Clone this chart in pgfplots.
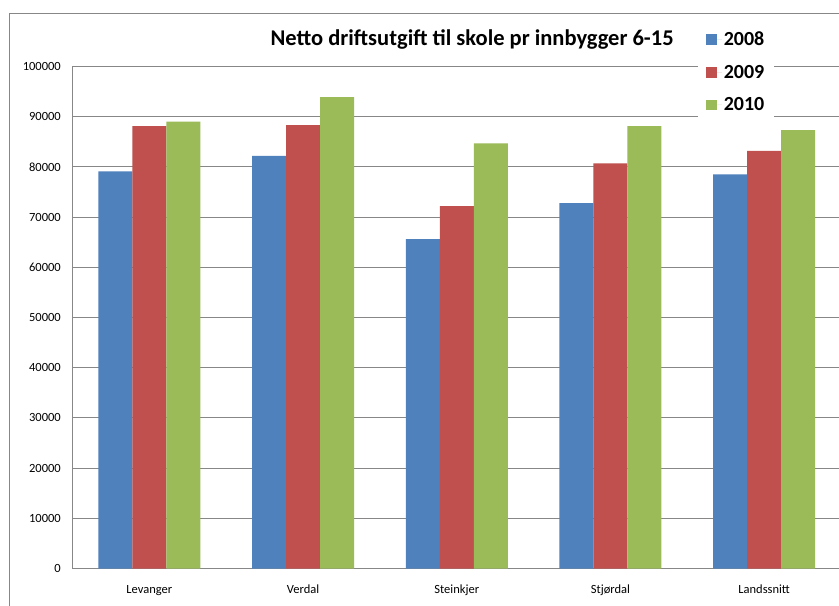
\documentclass[border=0pt]{standalone}
\usepackage{fontspec}
\setmainfont{Carlito}
\usepackage{pgfplots}
\pgfplotsset{compat=1.18}
\definecolor{cblue}{HTML}{4F81BD}
\definecolor{cred}{HTML}{C0504D}
\definecolor{cgreen}{HTML}{9BBB59}
\definecolor{gridgray}{HTML}{878787}
\begin{document}
\begin{tikzpicture}
\useasboundingbox (0,0) rectangle (839bp,606bp);
\fill[white] (0,0) rectangle (839bp,606bp);
\draw[gridgray, line width=1bp] (9.5bp,-10bp) -- (9.5bp,592.5bp) -- (860bp,592.5bp);
\begin{axis}[
  at={(72.5bp,37.5bp)}, anchor=south west, scale only axis,
  width=768.5bp, height=502bp,
  ybar=0pt, bar width=34bp,
  xmin=-0.5, xmax=4.5, ymin=0, ymax=100000,
  xtick=data, xticklabels={Levanger,Verdal,Steinkjer,Stjørdal,Landssnitt},
  ytick={0,10000,...,100000},
  scaled y ticks=false,
  major tick length=0pt,
  ymajorgrids, grid style={gridgray, line width=1bp},
  axis x line*=bottom, axis y line*=left,
  axis line style={gridgray, line width=1bp, -},
  yticklabel style={font=\fontsize{12.5bp}{14bp}\selectfont, anchor=east, inner sep=0pt, xshift=-11.5bp,
    /pgf/number format/fixed, /pgf/number format/precision=0,
    /pgf/number format/assume math mode=true, /pgf/number format/1000 sep={}},
  xticklabel style={font=\fontsize{12.5bp}{14bp}\selectfont, anchor=base, inner sep=0pt, yshift=-24.5bp},
  every axis title shift=0pt,
  title={Netto driftsutgift til skole pr innbygger 6-15},
  title style={at={(0.52,1.0428)}, anchor=base, inner sep=0pt, yshift=0pt, font=\fontsize{22.5bp}{26bp}\selectfont\bfseries},
  legend style={at={(0.814,0.989)}, anchor=west, draw=none, fill=white,
    inner xsep=8bp, inner ysep=3bp, row sep=14bp,
    font=\fontsize{20bp}{24bp}\selectfont\bfseries},
  legend cell align=left,
  legend image code/.code={\fill[#1] (0bp,-5.3bp) rectangle (10.7bp,5.3bp); \path (0bp,0bp) -- (15.5bp,0bp);},
]
\addplot[fill=cblue, draw=none] coordinates {(0,79100) (1,82200) (2,65600) (3,72800) (4,78500)};
\addplot[fill=cred, draw=none] coordinates {(0,88100) (1,88300) (2,72200) (3,80700) (4,83200)};
\addplot[fill=cgreen, draw=none] coordinates {(0,89000) (1,93900) (2,84700) (3,88100) (4,87300)};
\legend{2008,2009,2010}
\end{axis}
\end{tikzpicture}
\end{document}
